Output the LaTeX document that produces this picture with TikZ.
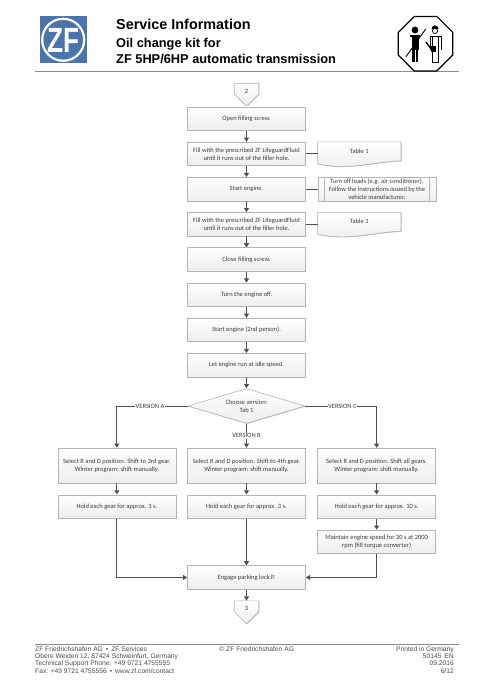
\documentclass[tikz,border=0pt]{standalone}
\usepackage{fontspec}
\setmainfont{Carlito}
\newfontfamily\headfont{Liberation Sans}
\usetikzlibrary{arrows.meta, positioning, backgrounds, shapes.geometric, shapes.symbols, shadows}
\definecolor{boxline}{HTML}{B4B4B4}
\definecolor{boxfill}{HTML}{EDEDED}
\definecolor{arrline}{HTML}{505050}
\definecolor{zfblue}{HTML}{4A74AE}
\definecolor{rulegray}{HTML}{8C8C8C}
\definecolor{boxtext}{HTML}{3C3C3C}
\tikzset{
  flowtext/.style={font=\fontsize{6.5}{8}\selectfont, text=boxtext, align=center, inner sep=0pt},
  soft/.style={draw=boxline, top color=white, bottom color=boxfill, line width=0.6pt,
    drop shadow={shadow xshift=0.6pt, shadow yshift=-0.6pt, opacity=0.25, fill=black}},
  box/.style={flowtext, soft, minimum height=23.5pt, minimum width=118pt},
  offpage/.style={flowtext, soft, signal, signal to=south, signal from=nowhere, signal pointer angle=90,
    minimum width=24.5pt, minimum height=12.3pt, text height=9pt},
  choice/.style={flowtext, soft, diamond, aspect=3.34, minimum width=117pt, minimum height=35pt},
  docbox/.style={flowtext, minimum width=83pt, minimum height=23.5pt, text height=4pt, text depth=5pt},
  arr/.style={-{Triangle[length=4.2pt, width=5pt]}, draw=arrline, line width=0.9pt},
  tie/.style={draw=arrline, line width=0.7pt},
  tag/.style={flowtext, fill=white, inner xsep=0.5pt, inner ysep=1pt},
  foot/.style={font=\headfont\fontsize{6.7}{7.4}\selectfont, text=black!70, inner sep=0pt},
  headline/.style={anchor=base west, inner sep=0pt, font=\headfont\bfseries\fontsize{#1}{#1}\selectfont},
}
% wavy lower edge behind a note
\newcommand{\wavenote}[1]{
  \begin{scope}[on background layer]
    \path[soft] (#1.north west) -- (#1.north east) -- ([yshift=5pt]#1.south east)
      .. controls ([xshift=-28pt,yshift=4pt]#1.south east) and ([xshift=30pt,yshift=-5pt]#1.south west)
      .. ([yshift=2pt]#1.south west) -- cycle;
  \end{scope}
}
\begin{document}
\begin{tikzpicture}[x=1pt, y=1pt, node distance=11.1pt]
  \useasboundingbox (0,0) rectangle (494,-700);
  % header
  \fill[zfblue] (40,-16) rectangle (86.5,-63.5);
  \draw[white, line width=2.2pt] (63.2,-39.8) circle (21);
  \node[inner sep=0pt, text=white, font=\headfont\bfseries\fontsize{35}{35}\selectfont, xscale=0.75] (zf) at (63.2,-40.5) {ZF};
  \node[headline=14.4] (title) at (116,-30) {Service Information};
  \node[headline=12.8] (subtitle) at (116,-47.7) {Oil change kit for};
  \node[headline=12.8] (subtitletwo) at (116,-63.3) {ZF 5HP/6HP automatic transmission};
  \draw[rulegray, line width=0.7pt] (35,-71) -- (459,-71);
  % warning sign
  \node[draw, regular polygon, regular polygon sides=8, line width=1.2pt, minimum size=59pt, inner sep=0pt] (sign) at (425.5,-43.7) {};
  \fill (415,-30) circle (3.4);
  \fill (410,-35.5) rectangle (420,-37.5);
  \fill (411.5,-37) rectangle (418.5,-50);
  \fill (412,-50) rectangle (414.5,-62);
  \fill (415.5,-50) rectangle (418,-62);
  \draw[line width=0.9pt] (425.7,-29) -- (406,-56.7);
  \fill (431.5,-29) arc (180:0:3.5) -- cycle;
  \draw[line width=0.7pt] (435,-31) circle (2.6);
  \draw[line width=0.8pt] (430,-50) -- (430,-36) -- (441,-36) -- (441,-50);
  \draw[line width=0.8pt] (432.5,-36) -- (432.5,-62) -- (438.5,-62) -- (438.5,-36);
  \draw[line width=1.4pt] (426,-42) -- (431,-49);
  \fill (431,-46) rectangle (436,-52);
  % main column
  \node[offpage] (off2) at (246.5,-88.6) {2};
  \node[box, below=0pt of off2] (openscrew) {Open filling screw.};
  \node[box, below=of openscrew] (fillone) {Fill with the prescribed ZF LifeguardFluid\\until it runs out of the filler hole.};
  \node[box, below=of fillone] (startone) {Start engine.};
  \node[box, below=of startone] (filltwo) {Fill with the prescribed ZF LifeguardFluid\\until it runs out of the filler hole.};
  \node[box, below=of filltwo] (closescrew) {Close filling screw.};
  \node[box, below=of closescrew] (engoff) {Turn the engine off.};
  \node[box, below=of engoff] (starttwo) {Start engine (2nd person).};
  \node[box, below=of starttwo] (idle) {Let engine run at idle speed.};
  \node[choice, below=of idle] (version) {Choose version:\\Tab 1};
  % notes on the right
  \node[docbox, right=11.8pt of fillone] (tabone) {Table 1};
  \node[docbox, right=11.8pt of filltwo] (tabtwo) {Table 1};
  \node[box, right=11.8pt of startone] (loads) {Turn off loads (e.g. air conditioner).\\Follow the instructions issued by the\\vehicle manufacturer.};
  \draw[boxline, line width=0.6pt] ([xshift=7pt]loads.north west) -- ([xshift=7pt]loads.south west);
  \draw[boxline, line width=0.6pt] ([xshift=-7pt]loads.north east) -- ([xshift=-7pt]loads.south east);
  \wavenote{tabone}
  \wavenote{tabtwo}
  % three versions
  \node[box, minimum height=35pt, below=24pt of version] (selb) {Select R and D position. Shift to 4th gear.\\Winter program: shift manually.};
  \node[box, minimum height=35pt, left=11pt of selb] (sela) {Select R and D position. Shift to 3rd gear.\\Winter program: shift manually.};
  \node[box, minimum height=35pt, right=11.5pt of selb] (selc) {Select R and D position. Shift all gears.\\Winter program: shift manually.};
  \node[box, below=of sela] (holda) {Hold each gear for approx. 3 s.};
  \node[box, below=of selb] (holdb) {Hold each gear for approx. 3 s.};
  \node[box, below=of selc] (holdc) {Hold each gear for approx. 10 s.};
  \node[box, below=of holdc] (maintain) {Maintain engine speed for 30 s at 2000\\rpm (fill torque converter)};
  \node[box, below=46.8pt of holdb] (parklock) {Engage parking lock P.};
  \node[offpage, below=of parklock] (off3) {3};
  % connectors
  \draw[arr] (openscrew) -- (fillone);
  \draw[arr] (fillone) -- (startone);
  \draw[arr] (startone) -- (filltwo);
  \draw[arr] (filltwo) -- (closescrew);
  \draw[arr] (closescrew) -- (engoff);
  \draw[arr] (engoff) -- (starttwo);
  \draw[arr] (starttwo) -- (idle);
  \draw[arr] (idle) -- (version);
  \draw[tie] (fillone) -- (tabone);
  \draw[tie] (startone) -- (loads);
  \draw[tie] (filltwo) -- (tabtwo);
  \draw[arr] (version.west) -| node[tag, pos=0.266] {VERSION A} (sela.north);
  \draw[arr] (version.south) -- node[tag, pos=0.5] {VERSION B} (selb.north);
  \draw[arr] (version.east) -| node[tag, pos=0.26] {VERSION C} (selc.north);
  \draw[arr] (sela) -- (holda);
  \draw[arr] (selb) -- (holdb);
  \draw[arr] (selc) -- (holdc);
  \draw[arr] (holdc) -- (maintain);
  \draw[arr] (holda.south) |- (parklock.west);
  \draw[arr] (holdb) -- (parklock);
  \draw[arr] (maintain.south) |- (parklock.east);
  \draw[arr] (parklock) -- (off3);
  % footer
  \draw[rulegray, line width=0.7pt] (35,-644.5) -- (459,-644.5);
  \node[foot, anchor=north west, align=left] (footleft) at (35,-646) {ZF Friedrichshafen AG \,•\, ZF Services\\Obere Weiden 12, 87424 Schweinfurt, Germany\\Technical Support Phone: +49 9721 4755555\\Fax: +49 9721 4755556 \,•\, www.zf.com/contact};
  \node[foot, anchor=north] (footmid) at (256.7,-646) {© ZF Friedrichshafen AG};
  \node[foot, anchor=north east, align=right] (footright) at (454,-646) {Printed in Germany\\50145\, EN\\09.2016\\6/12};
\end{tikzpicture}
\end{document}
